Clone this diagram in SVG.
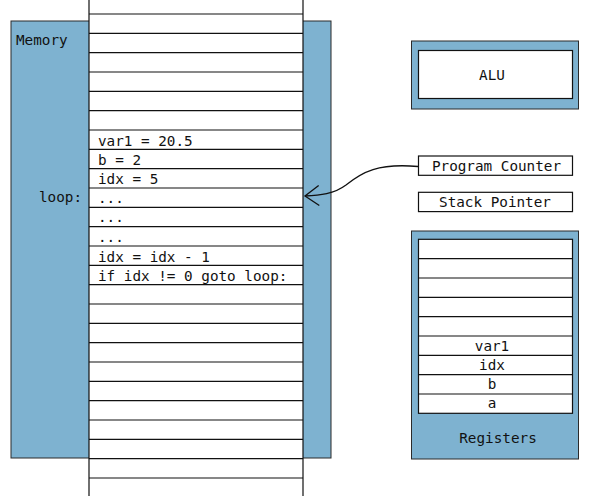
<svg xmlns="http://www.w3.org/2000/svg" width="600" height="496" viewBox="0 0 600 496">
<style>
.blue{fill:#7eb2d0;stroke:#2b2b2b;stroke-width:1}
.cell{fill:#ffffff;stroke:#111;stroke-width:1.2}
.ln{stroke:#111;stroke-width:1.2}
.t{font-family:"DejaVu Sans Mono","Liberation Mono",monospace;font-size:14.3px;fill:#111}
.c{text-anchor:middle}
.conn{fill:none;stroke:#111;stroke-width:1.3}
</style>
<defs>
<marker id="arr" markerWidth="20" markerHeight="24" refX="15" refY="11" orient="auto" markerUnits="userSpaceOnUse">
<path d="M1,1 L15,11 L1,21" fill="none" stroke="#111" stroke-width="1.3"/>
</marker>
</defs>
<rect width="600" height="496" fill="#ffffff"/>
<g id="memory">
<rect class="blue" x="11" y="21" width="320" height="437"/>
<rect class="cell" x="89" y="-6" width="214" height="510"/>
<g class="ln">
<line x1="89" x2="303" y1="14" y2="14"/>
<line x1="89" x2="303" y1="33.33" y2="33.33"/>
<line x1="89" x2="303" y1="52.67" y2="52.67"/>
<line x1="89" x2="303" y1="72" y2="72"/>
<line x1="89" x2="303" y1="91.33" y2="91.33"/>
<line x1="89" x2="303" y1="110.67" y2="110.67"/>
<line x1="89" x2="303" y1="130" y2="130"/>
<line x1="89" x2="303" y1="149.33" y2="149.33"/>
<line x1="89" x2="303" y1="168.67" y2="168.67"/>
<line x1="89" x2="303" y1="188" y2="188"/>
<line x1="89" x2="303" y1="207.33" y2="207.33"/>
<line x1="89" x2="303" y1="226.67" y2="226.67"/>
<line x1="89" x2="303" y1="246" y2="246"/>
<line x1="89" x2="303" y1="265.33" y2="265.33"/>
<line x1="89" x2="303" y1="284.67" y2="284.67"/>
<line x1="89" x2="303" y1="304" y2="304"/>
<line x1="89" x2="303" y1="323.33" y2="323.33"/>
<line x1="89" x2="303" y1="342.67" y2="342.67"/>
<line x1="89" x2="303" y1="362" y2="362"/>
<line x1="89" x2="303" y1="381.33" y2="381.33"/>
<line x1="89" x2="303" y1="400.67" y2="400.67"/>
<line x1="89" x2="303" y1="420" y2="420"/>
<line x1="89" x2="303" y1="439.33" y2="439.33"/>
<line x1="89" x2="303" y1="458.67" y2="458.67"/>
<line x1="89" x2="303" y1="478" y2="478"/>
</g>
<text class="t" x="16" y="44.5">Memory</text>
<text class="t" x="39" y="201.5">loop:</text>
<text class="t" x="98" y="146">var1 = 20.5</text>
<text class="t" x="98" y="165">b = 2</text>
<text class="t" x="98" y="184.4">idx = 5</text>
<text class="t" x="98" y="203">...</text>
<text class="t" x="98" y="222.4">...</text>
<text class="t" x="98" y="241.7">...</text>
<text class="t" x="98" y="261.5">idx = idx - 1</text>
<text class="t" x="98" y="280.5">if idx != 0 goto loop:</text>
</g>
<g id="alu">
<rect class="blue" x="411.5" y="41" width="167" height="68"/>
<rect class="cell" x="418.5" y="50.5" width="154" height="48"/>
<text class="t c" x="492" y="80">ALU</text>
</g>
<g id="program-counter">
<rect class="cell" x="418.5" y="156" width="154" height="19.3"/>
<text class="t c" x="496.5" y="170.5">Program Counter</text>
</g>
<g id="stack-pointer">
<rect class="cell" x="418.5" y="192.3" width="154" height="19.3"/>
<text class="t c" x="495" y="207">Stack Pointer</text>
</g>
<g id="registers">
<rect class="blue" x="411.5" y="231" width="167" height="228"/>
<rect class="cell" x="418.5" y="239.3" width="154" height="174"/>
<g class="ln">
<line x1="418.5" x2="572.5" y1="258.67" y2="258.67"/>
<line x1="418.5" x2="572.5" y1="278" y2="278"/>
<line x1="418.5" x2="572.5" y1="297.33" y2="297.33"/>
<line x1="418.5" x2="572.5" y1="316.67" y2="316.67"/>
<line x1="418.5" x2="572.5" y1="336" y2="336"/>
<line x1="418.5" x2="572.5" y1="355.33" y2="355.33"/>
<line x1="418.5" x2="572.5" y1="374.67" y2="374.67"/>
<line x1="418.5" x2="572.5" y1="394" y2="394"/>
</g>
<text class="t c" x="492" y="350.5">var1</text>
<text class="t c" x="492" y="369.5">idx</text>
<text class="t c" x="492" y="389">b</text>
<text class="t c" x="492" y="408.3">a</text>
<text class="t c" x="498" y="443">Registers</text>
</g>
<g id="connectors">
<path class="conn" d="M418,166.5 C378,163 362,172 346,185 C334,194 320,195.5 305,196" marker-end="url(#arr)"/>
</g>
</svg>
